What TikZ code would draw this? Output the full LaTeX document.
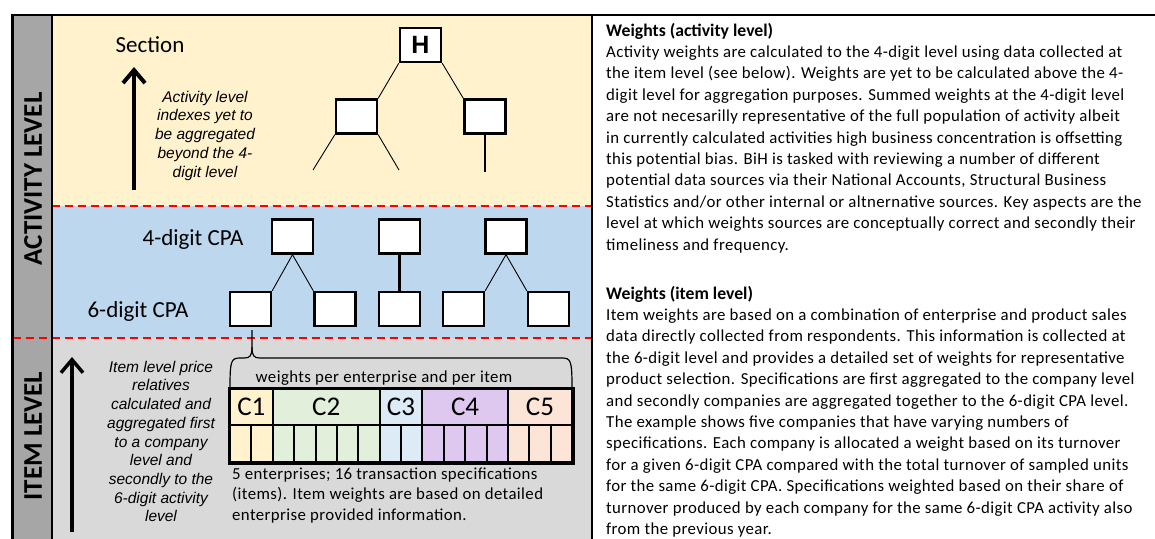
\documentclass[tikz,border=0pt]{standalone}
\usepackage{fontspec}
\setmainfont{Carlito}
\newfontfamily\spacedfont[LetterSpace=2.4]{Carlito}
\newfontfamily\arialfont{Liberation Sans}
\newcommand{\paratitle}[1]{{\normalfont\bfseries\fontsize{17.7}{21.5}\selectfont #1}}
\usetikzlibrary{arrows.meta}
\definecolor{actY}{HTML}{FFF2CC}
\definecolor{cpaB}{HTML}{BDD7EE}
\definecolor{itemG}{HTML}{D9D9D9}
\definecolor{sideG}{HTML}{A6A6A6}
\definecolor{cA}{HTML}{FFF2CC}
\definecolor{cB}{HTML}{E2EFDA}
\definecolor{cC}{HTML}{DDEBF7}
\definecolor{cD}{HTML}{DFC8EF}
\definecolor{cE}{HTML}{FCE4D6}
\begin{document}
\begin{tikzpicture}[x=1pt,y=-1pt,
  box/.style={draw=black, fill=white, line width=2.4pt, minimum width=41pt, minimum height=34pt, inner sep=0pt},
  thinline/.style={line width=0.9pt},
  thickline/.style={line width=2.2pt},
  reddash/.style={draw=red, line width=2pt, dash pattern=on 8pt off 5pt},
  frameline/.style={line width=2.5pt, draw=black},
  cell/.style={draw=black, line width=2pt, minimum height=37pt, inner sep=0pt, anchor=north west, minimum width=21.375pt},
  hcell/.style={draw=black, line width=2pt, minimum height=36pt, inner sep=0pt, anchor=north west, font=\fontsize{27}{30}\selectfont},
  biglabel/.style={anchor=base, font=\fontsize{23}{27}\selectfont, inner sep=0pt},
  sidelabel/.style={rotate=90, font=\bfseries\fontsize{27}{30}\selectfont, inner sep=0pt},
  note/.style={anchor=north, align=center, inner sep=0pt, font=\arialfont\itshape\fontsize{15.5}{18.7}\selectfont},
  para/.style={anchor=north west, align=left, inner sep=0pt, font=\spacedfont\fontsize{16.8}{21.4}\selectfont},
  bigarrow/.style={-{Straight Barb[length=13pt,width=22pt]}, line width=4pt},
]
\useasboundingbox (0,0) rectangle (1155,538);
\begin{scope}
\clip (0,0) rectangle (1155,538);
% backgrounds
\fill[white] (0,0) rectangle (1155,538);
\fill[sideG] (12.5,15) rectangle (52,560);
\fill[actY] (52,15) rectangle (592,206);
\fill[cpaB] (52,206) rectangle (592,338);
\fill[itemG] (52,338) rectangle (592,560);
% dashed separators
\draw[reddash] (52,206) -- (592,206);
\draw[reddash] (12.5,338) -- (592,338);
% frame
\draw[frameline] (12.5,15) rectangle (1175,570);
\draw[frameline] (52,15) -- (52,570);
\draw[frameline] (592,15) -- (592,570);
\end{scope}

% side labels
\node[sidelabel] (lact) at (33,179) {ACTIVITY LEVEL};
\node[sidelabel] (litem) at (33,436) {ITEM LEVEL};

% activity level
\node[biglabel] (sec) at (150,52.5) {Section};
\coordinate (aup0) at (134,190);
\coordinate (aup1) at (134,67);
\draw[bigarrow] (aup0) -- (aup1);
\node[note] (actnote) at (205,89) {\strut Activity level\\indexes yet to\\be aggregated\\beyond the 4-\\digit level};

\node[box, font=\arialfont\bfseries\fontsize{25}{28}\selectfont] (H) at (420.5,45) {H};
\node[box] (a1) at (356.5,116.5) {};
\node[box] (a2) at (485,116.5) {};
\coordinate (e1) at (313,170);
\coordinate (e2) at (399,170);
\coordinate (e3) at (485,172);
\draw[thinline] (H.south west) -- (a1.north east);
\draw[thinline] (H.south east) -- (a2.north west);
\draw[thinline] (a1.south west) -- (e1);
\draw[thinline] (a1.south east) -- (e2);
\draw[thickline] (a2.south) -- (e3);

% CPA levels
\node[biglabel] (cpa4) at (193,245.5) {4-digit CPA};
\node[biglabel] (cpa6) at (138,317.5) {6-digit CPA};
\node[box] (f1) at (292.5,236.5) {};
\node[box] (f2) at (399.5,236.5) {};
\node[box] (f3) at (506,236.5) {};
\node[box] (s1) at (250.5,309) {};
\node[box] (s2) at (335,309) {};
\node[box] (s3) at (399.5,309) {};
\node[box] (s4) at (463.5,309) {};
\node[box] (s5) at (548.5,309) {};
\draw[thinline] (f1.south) -- (s1.north east);
\draw[thinline] (f1.south) -- (s2.north west);
\draw[thickline] (f2.south) -- (s3.north);
\draw[thinline] (f3.south) -- (s4.north east);
\draw[thinline] (f3.south) -- (s5.north west);

% item level
\coordinate (iup0) at (72,532);
\coordinate (iup1) at (72,357);
\draw[bigarrow, line width=3.5pt] (iup0) -- (iup1);
\node[note] (itemnote) at (161,359) {\strut Item level price\\relatives\\calculated and\\aggregated first\\to a company\\level and\\secondly to the\\6-digit activity\\level};

% table
\node[hcell, fill=cA, minimum width=42.75pt] (c1) at (229,388) {C1};
\node[hcell, fill=cB, minimum width=106.875pt] (c2) at (271.75,388) {C2};
\node[hcell, fill=cC, minimum width=42.75pt] (c3) at (378.625,388) {C3};
\node[hcell, fill=cD, minimum width=85.5pt] (c4) at (421.375,388) {C4};
\node[hcell, fill=cE, minimum width=64.125pt] (c5) at (506.875,388) {C5};
\foreach \i/\c in {0/cA,1/cA,2/cB,3/cB,4/cB,5/cB,6/cB,7/cC,8/cC,9/cD,10/cD,11/cD,12/cD,13/cE,14/cE,15/cE}
  \node[cell, fill=\c] (r\i) at ({229+\i*21.375},424) {};
\draw[line width=3pt] (c1.north west) rectangle (r15.south east);

% brace
\coordinate (bl) at (230,388);
\coordinate (br) at (572,388);
\coordinate (btip) at (252,330);
\draw[line width=1.2pt] (bl) .. controls (230,361) and (231,358) .. (240,358) -- (244,358)
   .. controls (250,358) and (252,356) .. (252,347) -- (btip);
\draw[line width=1.2pt] (252,347) .. controls (252,356) and (254,358) .. (260,358) -- (562,358)
   .. controls (571,358) and (572,361) .. (br);
\node[anchor=base, inner sep=0pt, font=\spacedfont\fontsize{16.8}{19}\selectfont] (wlab) at (384,382) {weights per enterprise and per item};

\node[anchor=north west, align=left, inner sep=0pt, font=\spacedfont\fontsize{16.8}{20.5}\selectfont] (tnote) at (232,464.6)
 {\strut 5 enterprises; 16 transaction specifications\\(items). Item weights are based on detailed\\enterprise provided information.};

% right text
\node[para] (p1) at (606,21) {\strut\paratitle{Weights (activity level)}\\
Activity weights are calculated to the 4-digit level using data collected at\\
the item level (see below). Weights are yet to be calculated above the 4-\\
digit level for aggregation purposes. Summed weights at the 4-digit level\\
are not necesarilly representative of the full population of activity albeit\\
in currently calculated activities high business concentration is offsetting\\
this potential bias. BiH is tasked with reviewing a number of different\\
potential data sources via their National Accounts, Structural Business\\
Statistics and/or other internal or altnernative sources. Key aspects are the\\
level at which weights sources are conceptually correct and secondly their\\
timeliness and frequency.};
\node[para] (p2) at (606,284) {\strut\paratitle{Weights (item level)}\\
Item weights are based on a combination of enterprise and product sales\\
data directly collected from respondents. This information is collected at\\
the 6-digit level and provides a detailed set of weights for representative\\
product selection. Specifications are first aggregated to the company level\\
and secondly companies are aggregated together to the 6-digit CPA level.\\
The example shows five companies that have varying numbers of\\
specifications. Each company is allocated a weight based on its turnover\\
for a given 6-digit CPA compared with the total turnover of sampled units\\
for the same 6-digit CPA. Specifications weighted based on their share of\\
turnover produced by each company for the same 6-digit CPA activity also\\
from the previous year.};
\end{tikzpicture}
\end{document}
